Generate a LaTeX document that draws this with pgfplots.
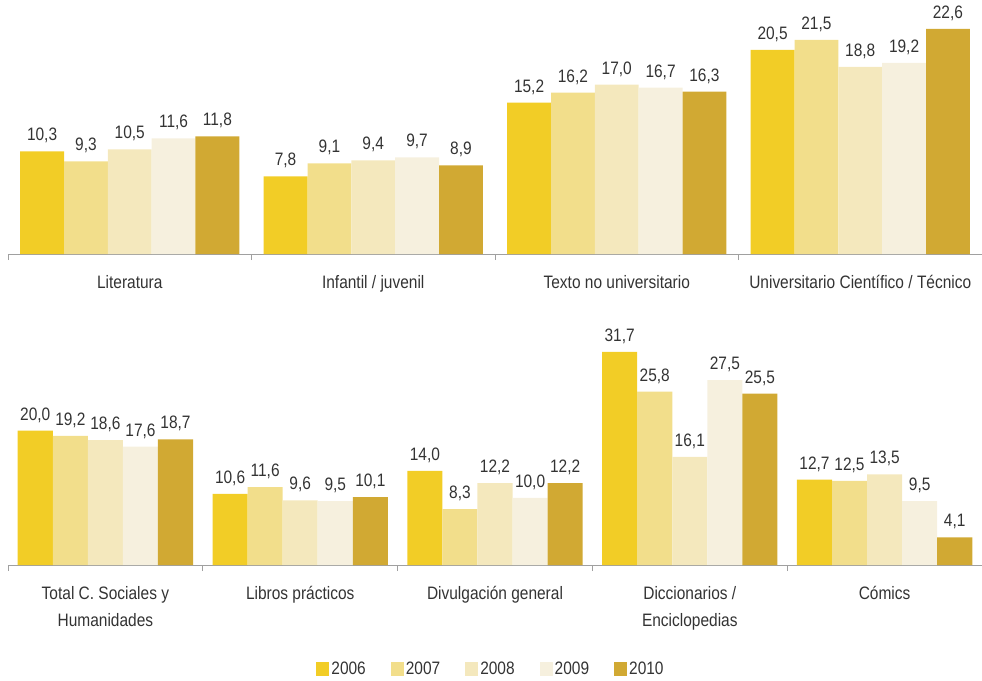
\documentclass[border=0pt]{standalone}
\usepackage{fontspec}
\setmainfont{Liberation Sans}[FakeStretch=0.86]
\usepackage{pgfplots}
\pgfplotsset{compat=1.18}
\definecolor{c6}{HTML}{F2CD26}
\definecolor{c7}{HTML}{F2DE8B}
\definecolor{c8}{HTML}{F4E8BD}
\definecolor{c9}{HTML}{F6F0DE}
\definecolor{c10}{HTML}{D1A933}
\definecolor{txt}{HTML}{333333}
\definecolor{axc}{HTML}{A0A0A0}
\newcommand\lf{\fontsize{18}{27}\selectfont}
\pgfplotsset{
  panel/.style={
    scale only axis, width=974pt, ybar, ymin=0, clip=false,
    axis y line=none, axis x line=bottom,
    x axis line style={-, draw=axc, line width=0.8pt},
    xtick align=outside,
    major tick length=0pt,
    typeset ticklabels with strut,
    x tick label style={font=\lf, text=txt, align=center, yshift=-12.5pt},
    extra x tick labels={},
    extra x tick style={major tick length=6pt, xtick style={draw=axc, line width=0.8pt}},
    /pgf/number format/.cd, fixed, fixed zerofill, precision=1, use comma, assume math mode=true,
    /pgfplots/.cd,
    nodes near coords,
    every node near coord/.append style={font=\lf, text=txt, inner sep=2pt, yshift=6pt},
  },
  sq/.style={legend image code/.code={\fill[##1] (0pt,-7pt) rectangle (13pt,7pt);}},
  s6/.style={fill=c6, draw=none, bar width=0.18, bar shift=-0.36, sq},
  s7/.style={fill=c7, draw=none, bar width=0.18, bar shift=-0.18, sq},
  s8/.style={fill=c8, draw=none, bar width=0.18, bar shift=0, sq},
  s9/.style={fill=c9, draw=none, bar width=0.18, bar shift=0.18, sq},
  s10/.style={fill=c10, draw=none, bar width=0.18, bar shift=0.36, sq},
}
\begin{document}
\begin{tikzpicture}
\useasboundingbox (-8pt,-426pt) rectangle (974pt,254pt);
\begin{axis}[panel, height=249pt, ymax=25,
  xmin=-0.5, xmax=3.5,
  xtick={0,1,2,3},
  xticklabels={Literatura, Infantil / juvenil, Texto no universitario, Universitario Científico / Técnico},
  extra x ticks={-0.5,0.5,1.5,2.5,3.5},
]
\addplot[s6] coordinates {(0,10.3) (1,7.8) (2,15.2) (3,20.5)};
\addplot[s7] coordinates {(0,9.3) (1,9.1) (2,16.2) (3,21.5)};
\addplot[s8] coordinates {(0,10.5) (1,9.4) (2,17.0) (3,18.8)};
\addplot[s9] coordinates {(0,11.6) (1,9.7) (2,16.7) (3,19.2)};
\addplot[s10] coordinates {(0,11.8) (1,8.9) (2,16.3) (3,22.6)};
\end{axis}
\begin{axis}[panel, at={(0pt,-311pt)}, height=228.5pt, ymax=34,
  xmin=-0.5, xmax=4.5,
  xtick={0,1,2,3,4},
  xticklabels={{Total C. Sociales y\\Humanidades}, Libros prácticos, Divulgación general, {Diccionarios /\\Enciclopedias}, Cómics},
  extra x ticks={-0.5,0.5,1.5,2.5,3.5,4.5},
  legend columns=5,
  legend style={draw=none, fill=none, font=\lf, text=txt, at={(0.5,-0.455)}, anchor=center,
    xshift=-4pt,
    nodes={inner sep=2pt},
    /tikz/every even column/.append style={column sep=23pt}},
]
\addplot[s6] coordinates {(0,20.0) (1,10.6) (2,14.0) (3,31.7) (4,12.7)};
\addplot[s7] coordinates {(0,19.2) (1,11.6) (2,8.3) (3,25.8) (4,12.5)};
\addplot[s8] coordinates {(0,18.6) (1,9.6) (2,12.2) (3,16.1) (4,13.5)};
\addplot[s9] coordinates {(0,17.6) (1,9.5) (2,10.0) (3,27.5) (4,9.5)};
\addplot[s10] coordinates {(0,18.7) (1,10.1) (2,12.2) (3,25.5) (4,4.1)};
\legend{2006,2007,2008,2009,2010}
\end{axis}
\end{tikzpicture}
\end{document}
